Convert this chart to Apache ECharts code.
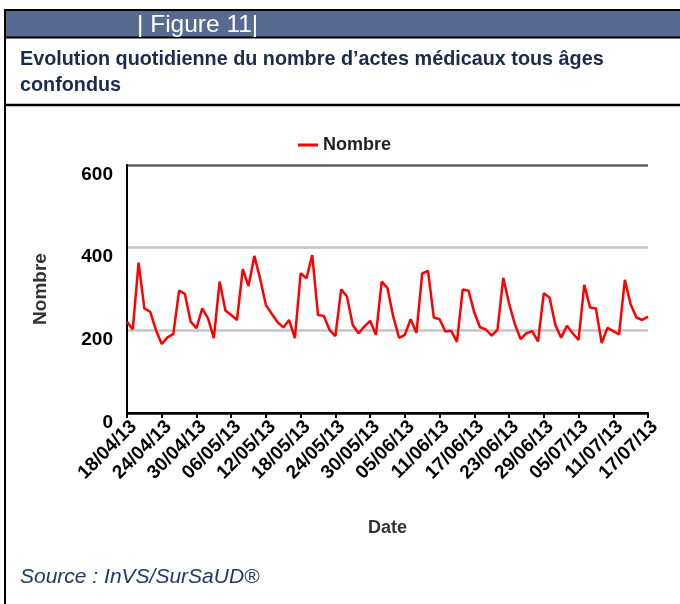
<!DOCTYPE html>
<html>
<head>
<meta charset="utf-8">
<script src="https://cdn.jsdelivr.net/npm/echarts@6/dist/echarts.min.js"></script>
<style>
html,body{margin:0;padding:0;background:#fff;}
#c{width:680px;height:604px;}
</style>
</head>
<body>
<div id="c"></div>
<script>
// Daily values from 18/04/13 to 17/07/13
const startDate = [2013, 3, 18];
const dayCount = 91;
const nombre = [
  221, 202, 364, 253, 245, 201, 167, 183, 191, 296,
  288, 221, 205, 253, 229, 181, 318, 248, 237, 225,
  348, 307, 380, 325, 261, 240, 220, 207, 225, 181,
  338, 326, 382, 237, 235, 201, 186, 299, 282, 213,
  193, 209, 223, 189, 318, 302, 233, 182, 189, 227,
  194, 338, 344, 231, 227, 197, 199, 172, 299, 296,
  243, 207, 202, 187, 201, 327, 265, 215, 179, 193,
  198, 173, 290, 279, 213, 182, 211, 193, 177, 310,
  255, 253, 169, 206, 198, 190, 322, 263, 231, 225,
  233
];
const yTicks = [0, 200, 400, 600];
const seriesName = 'Nombre';
const xName = 'Date';
const yName = 'Nombre';
const figLabel = '| Figure 11|';
const titleLines = ['Evolution quotidienne du nombre d\u2019actes médicaux tous âges', 'confondus'];
const sourceText = 'Source : InVS/SurSaUD®';

function pad(n){ return (n < 10 ? '0' : '') + n; }
const categories = [];
for (let i = 0; i < dayCount; i++) {
  const d = new Date(startDate[0], startDate[1], startDate[2] + i);
  categories.push(pad(d.getDate()) + '/' + pad(d.getMonth() + 1) + '/' + String(d.getFullYear()).slice(2));
}

const FONT = 'Arial, "Liberation Sans", Helvetica, sans-serif';
const chart = echarts.init(document.getElementById('c'), null, {renderer: 'canvas'});
chart.setOption({
  animation: false,
  backgroundColor: '#ffffff',
  textStyle: {fontFamily: FONT},
  graphic: [
    {type: 'rect', shape: {x: 5, y: 11, width: 680, height: 26}, style: {fill: '#576b91'}},
    {type: 'line', shape: {x1: 4, y1: 10, x2: 680, y2: 10}, style: {stroke: '#000', lineWidth: 2}},
    {type: 'line', shape: {x1: 4, y1: 37.5, x2: 680, y2: 37.5}, style: {stroke: '#000', lineWidth: 2}},
    {type: 'line', shape: {x1: 4, y1: 105, x2: 680, y2: 105}, style: {stroke: '#000', lineWidth: 2.5}},
    {type: 'line', shape: {x1: 5, y1: 9, x2: 5, y2: 604}, style: {stroke: '#000', lineWidth: 2}},
    {type: 'text', x: 137, y: 25, style: {text: figLabel, fill: '#ffffff', font: '24.5px ' + FONT, textVerticalAlign: 'middle'}},
    {type: 'text', x: 20, y: 60, style: {text: titleLines[0], fill: '#1b2b4b', font: 'bold 19.8px ' + FONT, textVerticalAlign: 'middle'}},
    {type: 'text', x: 20, y: 86, style: {text: titleLines[1], fill: '#1b2b4b', font: 'bold 19.8px ' + FONT, textVerticalAlign: 'middle'}},
    {type: 'text', x: 20, y: 577, style: {text: sourceText, fill: '#1f3a68', font: 'italic 21px ' + FONT, textVerticalAlign: 'middle'}}
  ],
  legend: {
    show: true,
    left: 293,
    top: 131,
    icon: 'rect',
    itemWidth: 20,
    itemHeight: 3,
    itemGap: 5,
    textStyle: {fontSize: 18, fontWeight: 'bold', color: '#222', fontFamily: FONT},
    data: [seriesName]
  },
  grid: {left: 127, right: 32, top: 165, bottom: 191, containLabel: false},
  xAxis: {
    type: 'category',
    data: categories,
    boundaryGap: false,
    name: xName,
    nameLocation: 'middle',
    nameGap: 106,
    nameTextStyle: {fontSize: 18, fontWeight: 'bold', color: '#333', fontFamily: FONT},
    axisLine: {show: true, lineStyle: {color: '#000', width: 2}},
    axisTick: {show: true, interval: 5, length: 5, lineStyle: {color: '#000', width: 2}},
    axisLabel: {interval: 5, rotate: 45, margin: 4, fontSize: 19, fontWeight: 'bold', color: '#000', fontFamily: FONT, verticalAlign: 'top'},
    splitLine: {show: false}
  },
  yAxis: {
    type: 'value',
    min: yTicks[0],
    max: yTicks[yTicks.length - 1],
    interval: 200,
    name: yName,
    nameLocation: 'middle',
    nameGap: 77,
    nameRotate: 90,
    nameTextStyle: {fontSize: 19, fontWeight: 'bold', color: '#333', fontFamily: FONT},
    axisLine: {show: true, lineStyle: {color: '#000', width: 2}},
    axisTick: {show: false},
    axisLabel: {margin: 14, fontSize: 19, fontWeight: 'bold', color: '#000', fontFamily: FONT, verticalAlign: 'top'},
    splitLine: {show: true, lineStyle: {color: ['#000', '#c4c4c4', '#c4c4c4', '#606060'], width: 2.5}}
  },
  series: [{
    name: seriesName,
    type: 'line',
    data: nombre,
    showSymbol: false,
    symbol: 'none',
    color: '#ff0000',
    lineStyle: {color: '#ff0000', width: 2.5}
  }]
});
</script>
</body>
</html>
